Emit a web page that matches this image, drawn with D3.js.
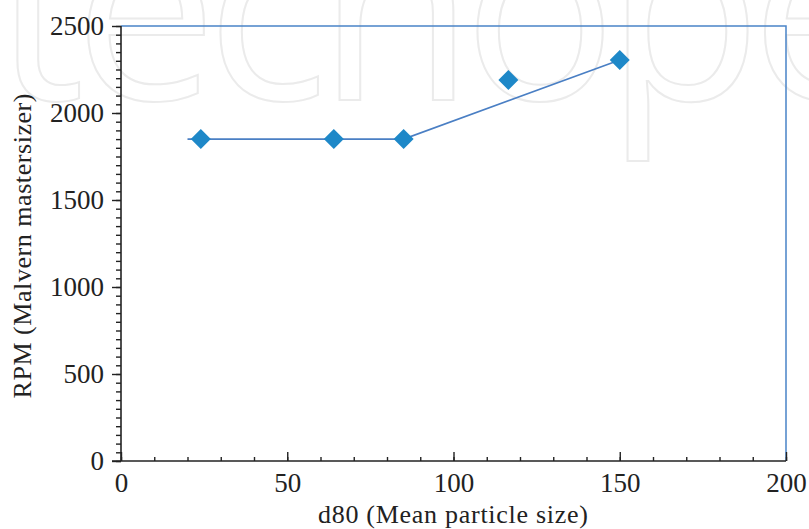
<!DOCTYPE html>
<html>
<head>
<meta charset="utf-8">
<script src="https://cdn.jsdelivr.net/npm/d3@7"></script>
<style>
  body { margin: 0; background: #fff; }
  svg { display: block; }
  .tick text { font-family: "Liberation Serif", serif; font-size: 27px; fill: #222; }
  .axis-title { font-family: "Liberation Serif", serif; font-size: 26px; fill: #222; }
</style>
</head>
<body>
<div id="chart"></div>
<script>
// measured points (d80 vs RPM)
var d80 = [24, 64, 85, 116.5, 150];
var rpm = [1850, 1850, 1850, 2190, 2305];

// fitted line drawn through the chart
var lineX = [20, 85, 150];
var lineY = [1850, 1850, 2305];

var xTicks = [0, 50, 100, 150, 200];
var yTicks = [0, 500, 1000, 1500, 2000, 2500];

var W = 809, H = 529;
var mLeft = 121, mRight = 786, mTop = 26, mBottom = 461;

var svg = d3.select("#chart").append("svg")
    .attr("width", W)
    .attr("height", H);

// faint watermark behind the chart
svg.append("text")
    .attr("x", -6)
    .attr("y", 100)
    .attr("textLength", 900)
    .attr("lengthAdjust", "spacing")
    .style("font-family", "Open Sans, sans-serif")
    .style("font-size", "255px")
    .style("fill", "none")
    .style("stroke", "#ebebeb")
    .style("stroke-width", 2)
    .text("tecnope");

var x = d3.scaleLinear().domain([0, 200]).range([mLeft, mRight]);
var y = d3.scaleLinear().domain([0, 2500]).range([mBottom, mTop]);

// blue frame on top and right
svg.append("path")
    .attr("d", "M" + x(0) + "," + y(2500) + "H" + x(200) + "V" + y(0))
    .attr("fill", "none")
    .attr("stroke", "#4a84c8")
    .attr("stroke-width", 1.5);

// minor ticks
var xMinor = svg.append("g")
    .attr("transform", "translate(0," + mBottom + ")")
    .call(d3.axisBottom(x).tickValues(d3.range(0, 201, 10)).tickSize(-4).tickFormat(""));
var yMinor = svg.append("g")
    .attr("transform", "translate(" + mLeft + ",0)")
    .call(d3.axisLeft(y).tickValues(d3.range(0, 2501, 50)).tickSize(5).tickFormat(""));

// major ticks + labels
var xAxis = svg.append("g")
    .attr("transform", "translate(0," + mBottom + ")")
    .call(d3.axisBottom(x).tickValues(xTicks).tickSize(-9).tickFormat(d3.format("d")));
xAxis.selectAll(".tick text").attr("dy", "0.71em").attr("y", 12);

var yAxis = svg.append("g")
    .attr("transform", "translate(" + mLeft + ",0)")
    .call(d3.axisLeft(y).tickValues(yTicks).tickSize(9).tickPadding(8).tickFormat(d3.format("d")));

[xMinor, yMinor, xAxis, yAxis].forEach(function (g) {
    g.select(".domain").remove();
    g.selectAll("line").attr("stroke", "#222").attr("stroke-width", 1.4);
});

// axis lines
svg.append("line")
    .attr("x1", mLeft - 9).attr("x2", mRight)
    .attr("y1", mBottom).attr("y2", mBottom)
    .attr("stroke", "#222").attr("stroke-width", 1.6);
svg.append("line")
    .attr("x1", mLeft).attr("x2", mLeft)
    .attr("y1", mTop).attr("y2", mBottom)
    .attr("stroke", "#222").attr("stroke-width", 1.6);

// axis titles
svg.append("text")
    .attr("class", "axis-title")
    .attr("x", 453)
    .attr("y", 523)
    .attr("text-anchor", "middle")
    .attr("textLength", 270)
    .attr("lengthAdjust", "spacing")
    .text("d80 (Mean particle size)");

svg.append("text")
    .attr("class", "axis-title")
    .attr("transform", "translate(31,246) rotate(-90)")
    .attr("text-anchor", "middle")
    .attr("textLength", 305)
    .attr("lengthAdjust", "spacing")
    .text("RPM (Malvern mastersizer)");

// line
var lineData = lineX.map(function (v, i) { return [v, lineY[i]]; });
svg.append("path")
    .datum(lineData)
    .attr("fill", "none")
    .attr("stroke", "#4a7fc4")
    .attr("stroke-width", 1.6)
    .attr("d", d3.line().x(function (d) { return x(d[0]); }).y(function (d) { return y(d[1]); }));

// diamond markers
var pts = d80.map(function (v, i) { return [v, rpm[i]]; });
svg.selectAll(".pt")
    .data(pts)
    .enter().append("path")
    .attr("class", "pt")
    .attr("d", d3.symbol().type(d3.symbolSquare).size(200))
    .attr("transform", function (d) { return "translate(" + x(d[0]) + "," + y(d[1]) + ") rotate(45)"; })
    .attr("fill", "#1e88c8");
</script>
</body>
</html>
